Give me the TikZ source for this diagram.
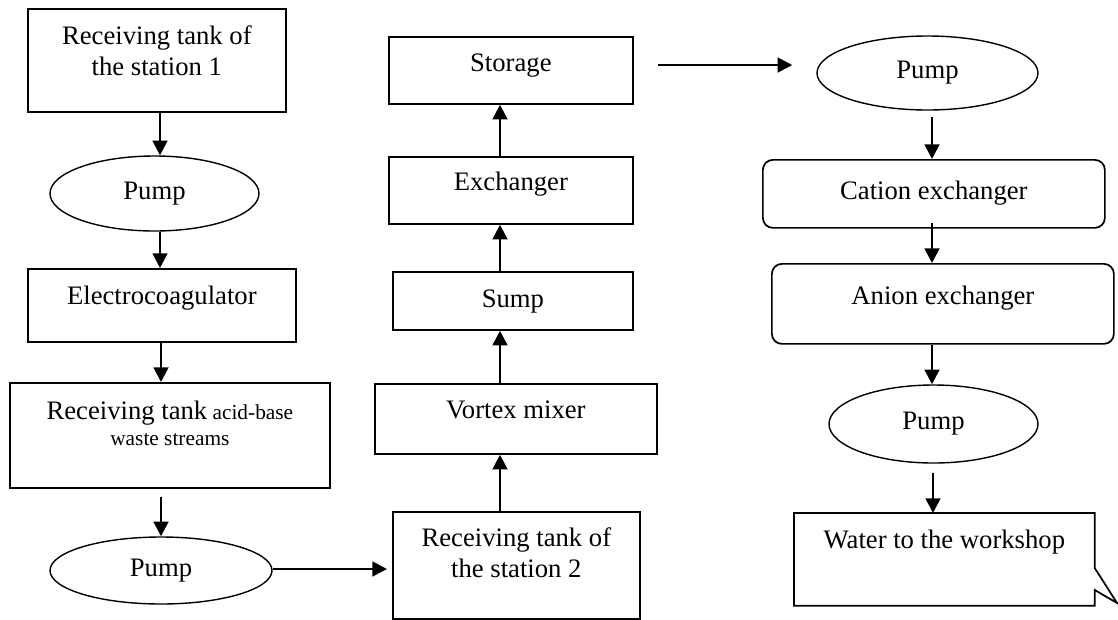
\documentclass[tikz,border=0pt]{standalone}
\usepackage{fontspec}
\setmainfont{Liberation Serif}
\usetikzlibrary{arrows.meta,shapes.geometric}
\newdimen\pxu \pxu=0.75pt
\newcommand{\bxt}[4]{\parbox[t][#2\pxu][t]{#1\pxu}{\centering\rule{0pt}{#3\pxu}#4}}
\begin{document}
\begin{tikzpicture}[x=0.75pt,y=-0.75pt,
  font=\fontsize{20}{23}\selectfont,
  box/.style={draw, line width=1.3pt, inner sep=0pt, anchor=north west},
  rbox/.style={box, rounded corners=7.5pt},
  pump/.style={draw, ellipse, line width=1.05pt, inner sep=0pt},
  arr/.style={line width=2pt, -{Triangle[length=11pt,width=11pt]}}]
\path[use as bounding box, fill=white] (0,0) rectangle (1118,619);

% left column
\node[box] (b1) at (27,8) {\bxt{258}{103}{36}{Receiving tank of\\the station 1}};
\node[pump, minimum width=209\pxu, minimum height=75\pxu] (p1) at (154.5,193.5) {Pump};
\node[box] (el) at (27,268) {\bxt{268}{73}{36}{Electrocoagulator}};
\node[box] (ac) at (9,382) {\bxt{320}{105}{37}{\fontsize{16}{19.5}\selectfont{\fontsize{20}{23}\selectfont Receiving tank} acid-base\\waste streams}};
\node[pump, minimum width=222\pxu, minimum height=67\pxu] (p2) at (161,570.5) {Pump};

% middle column
\node[box] (s2) at (392,511) {\bxt{247}{107}{35}{Receiving tank of\\the station 2}};
\node[box] (vm) at (374,383) {\bxt{282}{70}{35}{Vortex mixer}};
\node[box] (sp) at (392,271) {\bxt{240}{58}{36}{Sump}};
\node[box] (ex) at (388,156) {\bxt{244}{67}{34}{Exchanger}};
\node[box] (st) at (388,36) {\bxt{244}{67}{35}{Storage}};

% right column
\node[pump, minimum width=221\pxu, minimum height=74\pxu] (p3) at (927.5,73) {Pump};
\node[rbox] (ca) at (762,159) {\bxt{342}{68}{40}{Cation exchanger}};
\node[rbox] (an) at (771,263) {\bxt{342}{80}{41}{Anion exchanger}};
\node[pump, minimum width=209\pxu, minimum height=78\pxu] (p4) at (933.5,424) {Pump};
\node[box, draw=none] (wt) at (794,513) {\bxt{299}{91}{35}{Water to the workshop}};
\coordinate (tip) at (1117,603);
\draw[line width=1.3pt] (wt.north west) -- (wt.north east) -- (wt.east |- 0,568) -- (tip)
  -- (wt.east |- 0,590) -- (wt.south east) -- (wt.south west) -- cycle;

% connectors
\draw[arr] (b1.south -| 160,0) -- (p1.north -| 160,0);
\draw[arr] (p1.south -| 160,0) -- (el.north -| 160,0);
\draw[arr] (el.south -| 161,0) -- (ac.north -| 161,0);
\draw[arr, shorten <=6pt] (ac.south -| 161,0) -- (p2.north -| 161,0);
\draw[arr, shorten >=3.75pt] (p2.east |- 0,569) -- (s2.west |- 0,569);
\draw[arr] (s2.north -| 500,0) -- (vm.south -| 500,0);
\draw[arr] (vm.north -| 500,0) -- (sp.south -| 500,0);
\draw[arr] (sp.north -| 500,0) -- (ex.south -| 500,0);
\draw[arr] (ex.north -| 500,0) -- (st.south -| 500,0);
\draw[arr, shorten <=18pt, shorten >=18pt] (st.east |- 0,65) -- (p3.west |- 0,65);
\draw[arr, shorten <=5pt] (p3.south -| 932,0) -- (ca.north -| 932,0);
\draw[arr, shorten <=-4.5pt] (ca.south -| 932,0) -- (an.north -| 932,0);
\draw[arr] (an.south -| 932,0) -- (p4.north -| 932,0);
\draw[arr, shorten <=6.75pt] (p4.south -| 933,0) -- (wt.north -| 933,0);
\end{tikzpicture}
\end{document}
